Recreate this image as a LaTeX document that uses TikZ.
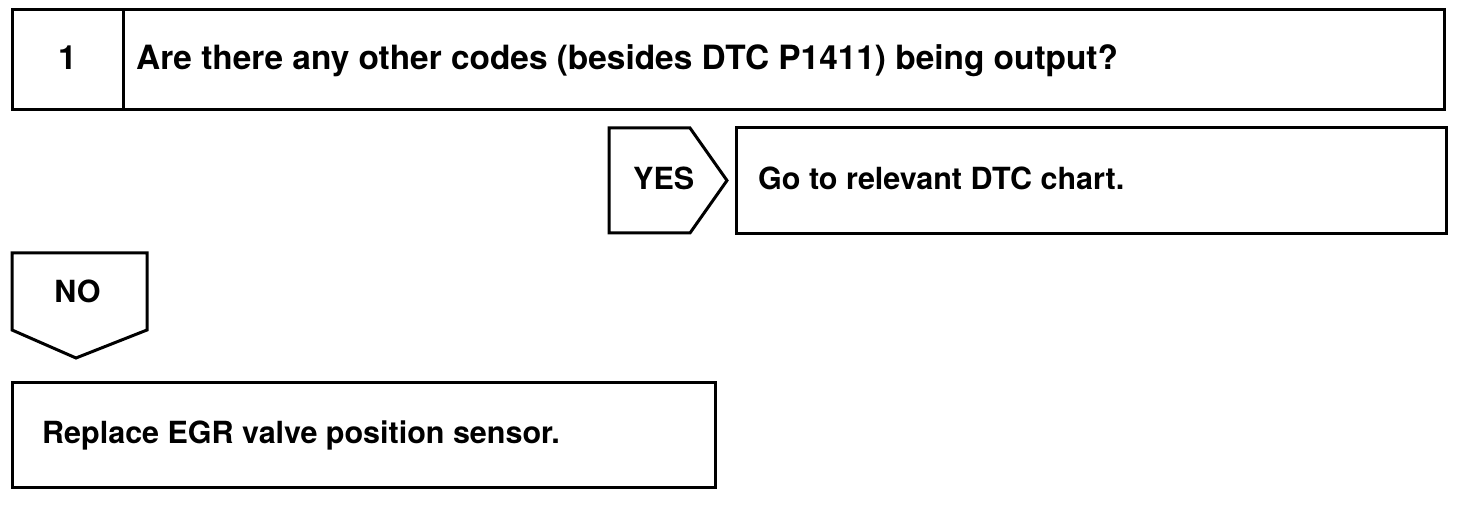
\documentclass[tikz,border=0pt]{standalone}
\usepackage{fontspec}
\setmainfont{TeX Gyre Heros}
\begin{document}
\begin{tikzpicture}[x=1pt,y=1pt,
  frame/.style={draw=black,line width=3pt,line join=miter},
  bigtxt/.style={inner sep=0pt,anchor=base west,font=\bfseries\fontsize{33.4}{36}\selectfont},
  midtxt/.style={inner sep=0pt,anchor=base west,font=\bfseries\fontsize{30.5}{34}\selectfont}]
\useasboundingbox (0,0) rectangle (1472,508);
% top question box
\draw[frame] (12,498) rectangle (1444,398);
\draw[frame] (123,498) -- (123,398);
\node[bigtxt,anchor=base] (num) at (67.5,438) {1};
\node[bigtxt] (q) at (136,438) {Are there any other codes (besides DTC P1411) being output?};
% YES pentagon
\draw[frame] (609,380) -- (690,380) -- (727,327.5) -- (690,275) -- (609,275) -- cycle;
\node[midtxt] (yes) at (633,318) {YES};
% Go box
\draw[frame] (736,380) rectangle (1446,274);
\node[midtxt] (go) at (758,318) {Go to relevant DTC chart.};
% NO pentagon
\draw[frame] (12,255) -- (147,255) -- (147,178) -- (76,150) -- (12,178) -- cycle;
\node[midtxt,anchor=base] (no) at (77.5,205) {NO};
% Replace box
\draw[frame] (12,125) rectangle (715,20);
\node[midtxt] (rep) at (42,64) {Replace EGR valve position sensor.};
\end{tikzpicture}
\end{document}
